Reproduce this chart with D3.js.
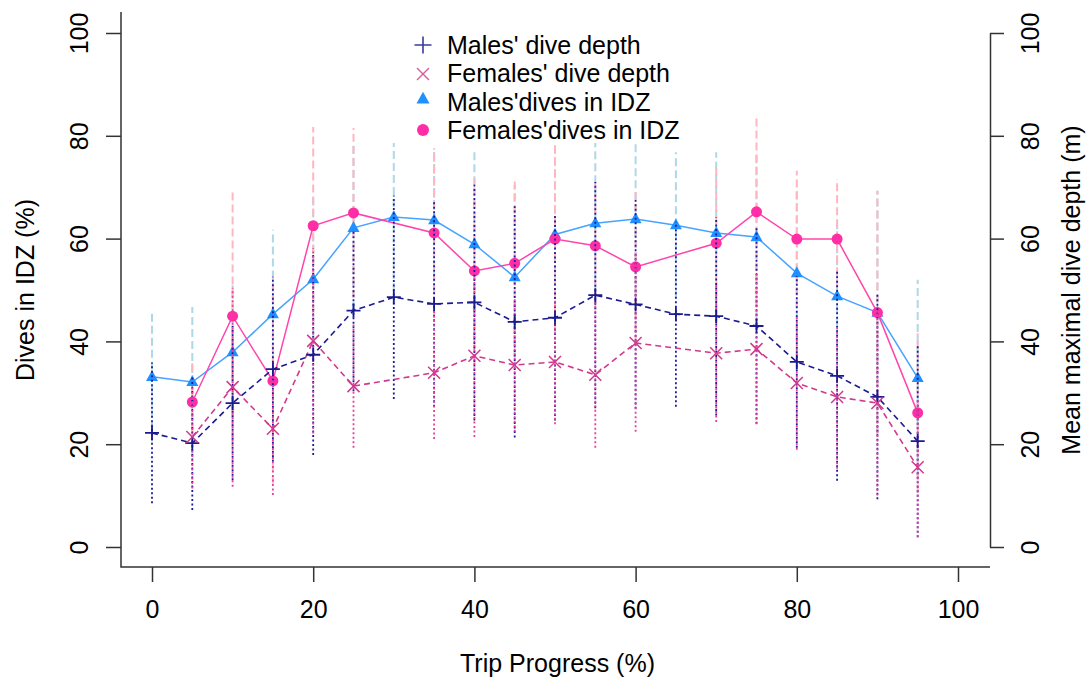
<!DOCTYPE html>
<html>
<head>
<meta charset="utf-8">
<script src="https://cdn.jsdelivr.net/npm/d3@7"></script>
<style>
  html, body { margin: 0; padding: 0; background: #fff; }
  text { font-family: Arial, "Liberation Sans", sans-serif; fill: #000; }
</style>
</head>
<body>
<svg id="chart" width="1087" height="678"></svg>
<script>
// ---------------- data ----------------
const xTicks = [0, 20, 40, 60, 80, 100];
const yTicks = [0, 20, 40, 60, 80, 100];

const maleX = [0, 5, 10, 15, 20, 25, 30, 35, 40, 45, 50, 55, 60, 65, 70, 75, 80, 85, 90, 95];
const maleIDZ = [33.1, 32.1, 37.9, 45.3, 52.1, 62.1, 64.2, 63.6, 58.9, 52.5, 60.8, 63.0, 63.8, 62.6, 61.1, 60.3, 53.3, 48.8, 45.6, 32.9];
const maleIDZsd = [12.6, 14.6, 13, 16.4, 16, 16, 14.4, 14, 18.7, 17.9, 17, 15.6, 15, 14.2, 15.7, 16, 16, 15, 23.7, 19.1];
const maleDepth = [22.2, 20.2, 28.0, 34.6, 37.4, 46.0, 48.6, 47.3, 47.6, 43.8, 44.6, 49.0, 47.2, 45.3, 44.9, 43.0, 36.0, 33.3, 29.2, 20.6];
const maleDepthSd = [13.7, 13, 15, 18, 19.5, 15.7, 19.8, 20, 23, 22.5, 20, 22, 20.3, 18, 19.3, 19, 16.7, 20.4, 19.9, 18.7];

const femaleX = [5, 10, 15, 20, 25, 35, 40, 45, 50, 55, 60, 70, 75, 80, 85, 90, 95];
const femaleIDZ = [28.2, 44.9, 32.3, 62.5, 65.0, 61.1, 53.7, 55.2, 59.9, 58.6, 54.5, 59.1, 65.2, 59.9, 59.9, 45.6, 26.1];
const femaleIDZsd = [8, 24.2, 20, 19.2, 16.5, 16.5, 18, 16, 18.3, 12.4, 15, 15, 18.4, 13.3, 11.7, 23.7, 15.5];
const femaleDepth = [21.4, 31.1, 23.0, 40.1, 31.3, 33.9, 37.2, 35.4, 36.0, 33.5, 39.7, 37.7, 38.5, 31.9, 29.2, 28.0, 15.5];
const femaleDepthSd = [10, 19.4, 12.9, 18, 12, 12.9, 15.8, 13, 12.1, 14.2, 17.3, 13.4, 14.6, 13, 14, 18, 13.6];

const legendLabels = ["Males' dive depth", "Females' dive depth", "Males'dives in IDZ", "Females'dives in IDZ"];
const xTitle = "Trip Progress (%)";
const yTitleLeft = "Dives in IDZ (%)";
const yTitleRight = "Mean maximal dive depth (m)";

// ---------------- styles ----------------
const C = {
  maleDepth: "#1b1b8f",
  femaleDepth: "#d13a8c",
  maleIDZ: "#1e90ff",
  maleIDZLine: "#47a3ff",
  femaleIDZ: "#ff2ea6",
  femaleIDZLine: "#ff45ad",
  maleIDZErr: "#add8e6",
  femaleIDZErr: "#ffb6c1",
  maleDepthErr: "#1b1b9a",
  femaleDepthErr: "#e8409a"
};

const svg = d3.select("#chart");
const x = d3.scaleLinear().domain([0, 100]).range([152, 958]);
const y = d3.scaleLinear().domain([0, 100]).range([547, 33]);
const yR = d3.scaleLinear().domain([0, 100]).range([547, 33]);

const FRAME_L = 121, FRAME_B = 567, FRAME_T = 12, FRAME_R = 990;

// frame (L shape)
svg.append("path")
  .attr("d", `M${FRAME_L},${FRAME_T}V${FRAME_B}H${FRAME_R}`)
  .attr("fill", "none").attr("stroke", "#333").attr("stroke-width", 1.5);

// bottom axis
const gx = svg.append("g").attr("transform", `translate(0,${FRAME_B})`)
  .call(d3.axisBottom(x).tickValues(xTicks).tickSize(15).tickSizeOuter(0).tickFormat(d3.format("d")));
gx.select(".domain").remove();
gx.selectAll(".tick line").attr("stroke", "#333").attr("stroke-width", 1.5);
gx.selectAll(".tick text").attr("y", 51).attr("dy", null)
  .style("font-size", "25px").style("font-family", "Arial, 'Liberation Sans', sans-serif").attr("fill", "#000");

// left axis
const gy = svg.append("g").attr("transform", `translate(${FRAME_L},0)`)
  .call(d3.axisLeft(y).tickValues(yTicks).tickSize(15).tickSizeOuter(0).tickFormat(d3.format("d")));
gy.select(".domain").remove();
gy.selectAll(".tick line").attr("stroke", "#333").attr("stroke-width", 1.5);
gy.selectAll(".tick text")
  .attr("transform", "rotate(-90)").attr("x", 0).attr("y", -33).attr("dy", null)
  .attr("text-anchor", "middle")
  .style("font-size", "25px").style("font-family", "Arial, 'Liberation Sans', sans-serif").attr("fill", "#000");

// right axis
const gr = svg.append("g").attr("transform", `translate(${FRAME_R},0)`)
  .call(d3.axisRight(yR).tickValues(yTicks).tickSize(14).tickSizeOuter(0).tickFormat(d3.format("d")));
gr.select(".domain").attr("stroke", "#333").attr("stroke-width", 1.5);
gr.selectAll(".tick line").attr("stroke", "#333").attr("stroke-width", 1.5);
gr.selectAll(".tick text")
  .attr("transform", "rotate(-90)").attr("x", 0).attr("y", 49).attr("dy", null)
  .attr("text-anchor", "middle")
  .style("font-size", "25px").style("font-family", "Arial, 'Liberation Sans', sans-serif").attr("fill", "#000");

// axis titles
svg.append("text").attr("x", (FRAME_L + FRAME_R) / 2 + 2).attr("y", 672)
  .attr("text-anchor", "middle").style("font-size", "25px").text(xTitle);
svg.append("text").attr("transform", `translate(34,${(33 + 547) / 2}) rotate(-90)`)
  .attr("text-anchor", "middle").style("font-size", "25px").text(yTitleLeft);
svg.append("text").attr("transform", `translate(1080,${(33 + 547) / 2}) rotate(-90)`)
  .attr("text-anchor", "middle").style("font-size", "25px").text(yTitleRight);

// ---------------- helpers ----------------
function rows(xs, vs, sds) { return xs.map((d, i) => ({ x: d, v: vs[i], sd: sds[i] })); }
const maleIDZRows = rows(maleX, maleIDZ, maleIDZsd);
const femaleIDZRows = rows(femaleX, femaleIDZ, femaleIDZsd);
const maleDepthRows = rows(maleX, maleDepth, maleDepthSd);
const femaleDepthRows = rows(femaleX, femaleDepth, femaleDepthSd);

function errBars(data, scale, color, dash, width) {
  svg.append("g").selectAll("line").data(data).join("line")
    .attr("x1", d => x(d.x)).attr("x2", d => x(d.x))
    .attr("y1", d => scale(d.v - d.sd)).attr("y2", d => scale(d.v + d.sd))
    .attr("stroke", color).attr("stroke-width", width).attr("stroke-dasharray", dash);
}
function seriesLine(data, scale, color, dash, width) {
  const line = d3.line().x(d => x(d.x)).y(d => scale(d.v));
  svg.append("path").datum(data).attr("d", line)
    .attr("fill", "none").attr("stroke", color).attr("stroke-width", width)
    .attr("stroke-dasharray", dash);
}
function plusPath(cx, cy, r) { return `M${cx - r},${cy}H${cx + r}M${cx},${cy - r}V${cy + r}`; }
function crossPath(cx, cy, r) { return `M${cx - r},${cy - r}L${cx + r},${cy + r}M${cx - r},${cy + r}L${cx + r},${cy - r}`; }
function triPath(cx, cy, s) {
  const h = s * 0.9;
  return `M${cx},${cy - h * 0.62}L${cx + s / 2},${cy + h * 0.38}L${cx - s / 2},${cy + h * 0.38}Z`;
}

// ---------------- marks ----------------
// IDZ error bars (dashed, light)
errBars(maleIDZRows, y, C.maleIDZErr, "8,4", 2);
errBars(femaleIDZRows, y, C.femaleIDZErr, "8,4", 2);

// IDZ lines + markers
seriesLine(maleIDZRows, y, C.maleIDZLine, null, 1.5);
seriesLine(femaleIDZRows, y, C.femaleIDZLine, null, 1.5);
svg.append("g").selectAll("path").data(maleIDZRows).join("path")
  .attr("d", d => triPath(x(d.x), y(d.v), 12)).attr("fill", C.maleIDZ);
svg.append("g").selectAll("circle").data(femaleIDZRows).join("circle")
  .attr("cx", d => x(d.x)).attr("cy", d => y(d.v)).attr("r", 5.5).attr("fill", C.femaleIDZ);

// depth error bars (dotted)
errBars(maleDepthRows, yR, C.maleDepthErr, "2,2.5", 1.8);
errBars(femaleDepthRows, yR, C.femaleDepthErr, "2,2.5", 1.8);

// depth lines + markers
seriesLine(maleDepthRows, yR, C.maleDepth, "6,4", 1.6);
seriesLine(femaleDepthRows, yR, C.femaleDepth, "6,4", 1.6);
svg.append("g").selectAll("path").data(maleDepthRows).join("path")
  .attr("d", d => plusPath(x(d.x), yR(d.v), 7)).attr("stroke", C.maleDepth)
  .attr("stroke-width", 1.8).attr("fill", "none");
svg.append("g").selectAll("path").data(femaleDepthRows).join("path")
  .attr("d", d => crossPath(x(d.x), yR(d.v), 6)).attr("stroke", C.femaleDepth)
  .attr("stroke-width", 1.5).attr("fill", "none");

// ---------------- legend ----------------
const lgX = 423, txtX = 447;
const lgY = [45, 73, 102, 130];
const lg = svg.append("g");
lg.append("path").attr("d", plusPath(lgX, lgY[0], 8.5)).attr("stroke", "#3a3aa0").attr("stroke-width", 1.6).attr("fill", "none");
lg.append("path").attr("d", crossPath(lgX, lgY[1] + 1, 6)).attr("stroke", "#d65a9c").attr("stroke-width", 1.4).attr("fill", "none");
lg.append("path").attr("d", triPath(lgX, lgY[2] - 3, 13)).attr("fill", C.maleIDZ);
lg.append("circle").attr("cx", lgX).attr("cy", lgY[3]).attr("r", 6).attr("fill", C.femaleIDZ);
lg.selectAll("text").data(legendLabels).join("text")
  .attr("x", txtX).attr("y", (d, i) => lgY[i] + 9)
  .style("font-size", "25px").text(d => d);
</script>
</body>
</html>
